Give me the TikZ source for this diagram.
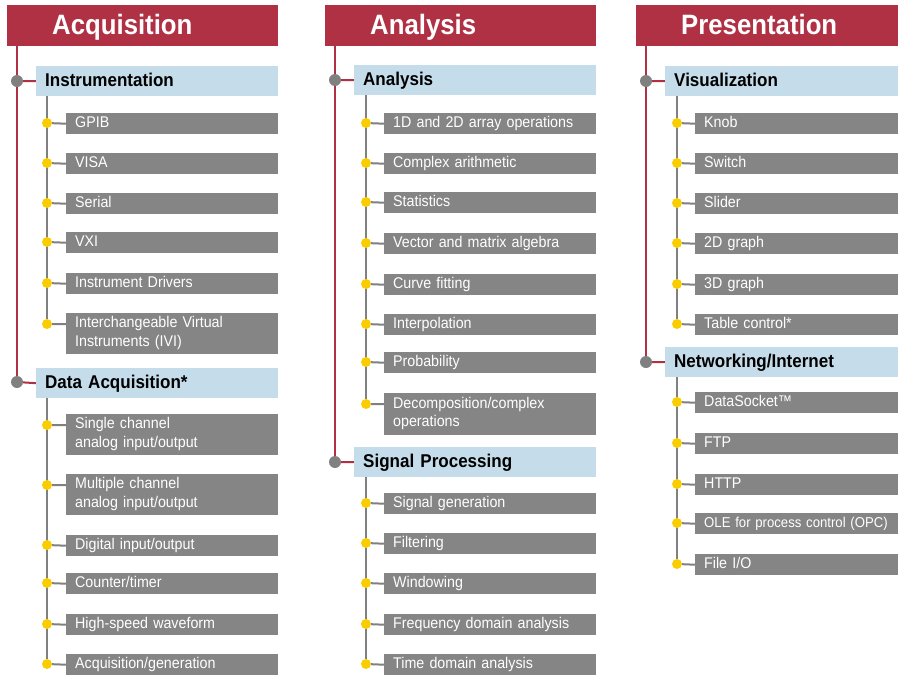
\documentclass[tikz,border=0pt]{standalone}
\usepackage{fontspec}
\setmainfont{Liberation Sans}[FakeStretch=0.92]
\usepackage{xcolor}
\usetikzlibrary{backgrounds}

\definecolor{hdred}{RGB}{176,48,68}
\definecolor{catblue}{RGB}{197,221,234}
\definecolor{entrygrey}{RGB}{133,133,133}
\definecolor{dotgrey}{RGB}{128,128,128}
\definecolor{dotyellow}{RGB}{250,205,0}

\newcommand\entrystrut{\rule[-5pt]{0pt}{17pt}}

\begin{document}
\begin{tikzpicture}[x=1pt, y=-1pt,
    header/.style={fill=hdred, text=white, anchor=north west, inner xsep=45pt, inner ysep=0pt,
        minimum height=41pt, text width=#1, align=left, text height=20pt, text depth=2pt,
        font=\bfseries\fontsize{28}{30}\selectfont},
    category/.style={fill=catblue, anchor=north west, inner xsep=9pt, inner ysep=0pt,
        minimum height=30pt, text width=#1, align=left, text height=13.2pt, text depth=2pt,
        font=\bfseries\fontsize{18.5}{20}\selectfont},
    entry/.style={fill=entrygrey, text=white, anchor=north west, inner xsep=9pt, inner ysep=0pt,
        minimum height=21pt, text width=#1, align=left, font=\fontsize{15.5}{18.5}\selectfont,
        execute at begin node=\entrystrut, execute at end node=\entrystrut},
    catdot/.style={circle, fill=dotgrey, minimum size=12pt, inner sep=0pt},
    entrydot/.style={circle, fill=dotyellow, minimum size=10pt, inner sep=0pt},
    redline/.style={draw=hdred, line width=2pt},
    greyline/.style={draw=dotgrey, line width=2.5pt},
    stub/.style={draw=dotgrey, line width=2pt}]
    \useasboundingbox (0,0) rectangle (898,675);

    % Acquisition
    \node[header=181pt] (acq) at (7,5) {Acquisition};
    \node[category=224pt] (instr) at (36,66) {Instrumentation};
    \node[catdot] (instrdot) at (17,81) {};
    \node[entry=194pt] (gpib) at (66,113) {GPIB};
    \node[entrydot] (gpibdot) at (47,123) {};
    \node[entry=194pt] (visa) at (66,153) {VISA};
    \node[entrydot] (visadot) at (47,163) {};
    \node[entry=194pt] (serial) at (66,193) {Serial};
    \node[entrydot] (serialdot) at (47,203) {};
    \node[entry=194pt] (vxi) at (66,232) {VXI};
    \node[entrydot] (vxidot) at (47,242) {};
    \node[entry=194pt] (drivers) at (66,273) {Instrument Drivers};
    \node[entrydot] (driversdot) at (47,283) {};
    \node[entry=194pt, minimum height=41pt] (ivi) at (66,313) {Interchangeable Virtual\\Instruments (IVI)};
    \node[entrydot] (ividot) at (47,324) {};

    \node[category=224pt] (daq) at (36,368) {Data Acquisition*};
    \node[catdot] (daqdot) at (17,382) {};
    \node[entry=194pt, minimum height=41pt] (single) at (66,414) {Single channel\\analog input/output};
    \node[entrydot] (singledot) at (47,425) {};
    \node[entry=194pt, minimum height=41pt] (multiple) at (66,474) {Multiple channel\\analog input/output};
    \node[entrydot] (multipledot) at (47,485) {};
    \node[entry=194pt] (digital) at (66,535) {Digital input/output};
    \node[entrydot] (digitaldot) at (47,545) {};
    \node[entry=194pt] (counter) at (66,573) {Counter/timer};
    \node[entrydot] (counterdot) at (47,583) {};
    \node[entry=194pt] (highspeed) at (66,614) {High-speed waveform};
    \node[entrydot] (highspeeddot) at (47,624) {};
    \node[entry=194pt] (acqgen) at (66,654) {Acquisition/generation};
    \node[entrydot] (acqgendot) at (47,664) {};

    % Analysis
    \node[header=181pt] (anahead) at (325,5) {Analysis};
    \node[category=224pt] (ana) at (354,65) {Analysis};
    \node[catdot] (anadot) at (335,80) {};
    \node[entry=194pt] (arrays) at (384,113) {1D and 2D array operations};
    \node[entrydot] (arraysdot) at (366,123) {};
    \node[entry=194pt] (complex) at (384,153) {Complex arithmetic};
    \node[entrydot] (complexdot) at (366,163) {};
    \node[entry=194pt] (stats) at (384,192) {Statistics};
    \node[entrydot] (statsdot) at (366,202) {};
    \node[entry=194pt] (vector) at (384,233) {Vector and matrix algebra};
    \node[entrydot] (vectordot) at (366,243) {};
    \node[entry=194pt] (curve) at (384,274) {Curve fitting};
    \node[entrydot] (curvedot) at (366,284) {};
    \node[entry=194pt] (interp) at (384,314) {Interpolation};
    \node[entrydot] (interpdot) at (366,324) {};
    \node[entry=194pt] (prob) at (384,352) {Probability};
    \node[entrydot] (probdot) at (366,362) {};
    \node[entry=194pt, minimum height=42pt] (decomp) at (384,393) {Decomposition/complex\\operations};
    \node[entrydot] (decompdot) at (366,404) {};

    \node[category=224pt] (sig) at (354,447) {Signal Processing};
    \node[catdot] (sigdot) at (335,462) {};
    \node[entry=194pt] (siggen) at (384,493) {Signal generation};
    \node[entrydot] (siggendot) at (366,503) {};
    \node[entry=194pt] (filter) at (384,533) {Filtering};
    \node[entrydot] (filterdot) at (366,543) {};
    \node[entry=194pt] (window) at (384,573) {Windowing};
    \node[entrydot] (windowdot) at (366,583) {};
    \node[entry=194pt] (freq) at (384,614) {Frequency domain analysis};
    \node[entrydot] (freqdot) at (366,624) {};
    \node[entry=194pt] (timedom) at (384,654) {Time domain analysis};
    \node[entrydot] (timedomdot) at (366,664) {};

    % Presentation
    \node[header=172pt] (pres) at (636,5) {Presentation};
    \node[category=215pt] (vis) at (665,66) {Visualization};
    \node[catdot] (visdot) at (646,81) {};
    \node[entry=194pt] (knob) at (695,113) {Knob};
    \node[entrydot] (knobdot) at (677,123) {};
    \node[entry=194pt] (switch) at (695,153) {Switch};
    \node[entrydot] (switchdot) at (677,163) {};
    \node[entry=194pt] (slider) at (695,193) {Slider};
    \node[entrydot] (sliderdot) at (677,203) {};
    \node[entry=194pt] (graphtwo) at (695,233) {2D graph};
    \node[entrydot] (graphtwodot) at (677,243) {};
    \node[entry=194pt] (graphthree) at (695,274) {3D graph};
    \node[entrydot] (graphthreedot) at (677,284) {};
    \node[entry=194pt] (table) at (695,314) {Table control*};
    \node[entrydot] (tabledot) at (677,324) {};

    \node[category=215pt] (net) at (665,347) {Networking/Internet};
    \node[catdot] (netdot) at (646,362) {};
    \node[entry=194pt] (socket) at (695,392) {DataSocket™};
    \node[entrydot] (socketdot) at (677,402) {};
    \node[entry=194pt] (ftp) at (695,433) {FTP};
    \node[entrydot] (ftpdot) at (677,443) {};
    \node[entry=194pt] (http) at (695,474) {HTTP};
    \node[entrydot] (httpdot) at (677,484) {};
    \node[entry=194pt, font=\fontsize{14.3}{18.5}\selectfont] (opc) at (695,513) {OLE for process control (OPC)};
    \node[entrydot] (opcdot) at (677,523) {};
    \node[entry=194pt] (fileio) at (695,554) {File I/O};
    \node[entrydot] (fileiodot) at (677,564) {};

    % tree lines
    \begin{scope}[on background layer]
        \draw[redline] (acq.south -| instrdot) -- (daqdot);
        \draw[redline] (instrdot) -- (instr.west) (daqdot) -- (daq.west);
        \draw[greyline] (instr.south -| gpibdot) -- (ividot);
        \draw[greyline] (daq.south -| singledot) -- (acqgendot);
        \draw[stub] (gpibdot) -- (gpib.west) (visadot) -- (visa.west) (serialdot) -- (serial.west)
            (vxidot) -- (vxi.west) (driversdot) -- (drivers.west) (ividot) -- (ividot -| ivi.west);
        \draw[stub] (singledot) -- (singledot -| single.west) (multipledot) -- (multipledot -| multiple.west)
            (digitaldot) -- (digital.west) (counterdot) -- (counter.west)
            (highspeeddot) -- (highspeed.west) (acqgendot) -- (acqgen.west);

        \draw[redline] (anahead.south -| anadot) -- (sigdot);
        \draw[redline] (anadot) -- (ana.west) (sigdot) -- (sig.west);
        \draw[greyline] (ana.south -| arraysdot) -- (decompdot);
        \draw[greyline] (sig.south -| siggendot) -- (timedomdot);
        \draw[stub] (arraysdot) -- (arrays.west) (complexdot) -- (complex.west) (statsdot) -- (stats.west)
            (vectordot) -- (vector.west) (curvedot) -- (curve.west) (interpdot) -- (interp.west)
            (probdot) -- (prob.west) (decompdot) -- (decompdot -| decomp.west);
        \draw[stub] (siggendot) -- (siggen.west) (filterdot) -- (filter.west) (windowdot) -- (window.west)
            (freqdot) -- (freq.west) (timedomdot) -- (timedom.west);

        \draw[redline] (pres.south -| visdot) -- (netdot);
        \draw[redline] (visdot) -- (vis.west) (netdot) -- (net.west);
        \draw[greyline] (vis.south -| knobdot) -- (tabledot);
        \draw[greyline] (net.south -| socketdot) -- (fileiodot);
        \draw[stub] (knobdot) -- (knob.west) (switchdot) -- (switch.west) (sliderdot) -- (slider.west)
            (graphtwodot) -- (graphtwo.west) (graphthreedot) -- (graphthree.west) (tabledot) -- (table.west);
        \draw[stub] (socketdot) -- (socket.west) (ftpdot) -- (ftp.west) (httpdot) -- (http.west)
            (opcdot) -- (opc.west) (fileiodot) -- (fileio.west);
    \end{scope}
\end{tikzpicture}
\end{document}
